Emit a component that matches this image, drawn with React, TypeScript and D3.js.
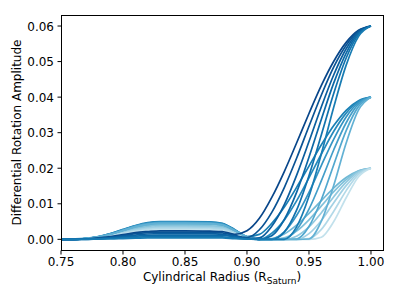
import React from "react";
import * as d3 from "d3";

// shared radius grid (R_Saturn)
const radius = [
  0.75, 0.76, 0.77, 0.78, 0.79, 0.8, 0.81, 0.82, 0.83, 0.85, 0.87, 0.88,
  0.89, 0.9, 0.91, 0.92, 0.93, 0.94, 0.95, 0.96, 0.97, 0.98, 0.99, 1.0,
];

// amplitude 0.02 profiles (light)
const amp02 = [
  [0, 0, 0.0002, 0.0006, 0.0013, 0.0023, 0.0033, 0.0039, 0.0042, 0.0042, 0.0041, 0.0038, 0.0023, 0.0006, 0, 0.0002, 0.0015, 0.004, 0.0073, 0.0109, 0.0145, 0.0174, 0.0193, 0.02],
  [0, 0, 0.0002, 0.0006, 0.0012, 0.0021, 0.003, 0.0036, 0.0039, 0.0039, 0.0038, 0.0035, 0.0021, 0.0006, 0, 0, 0.0004, 0.0023, 0.0055, 0.0094, 0.0134, 0.0168, 0.0192, 0.02],
  [0, 0, 0.0002, 0.0005, 0.0012, 0.002, 0.0028, 0.0033, 0.0036, 0.0036, 0.0035, 0.0032, 0.002, 0.0005, 0, 0, 0, 0.0009, 0.0035, 0.0075, 0.012, 0.0161, 0.019, 0.02],
  [0, 0, 0.0002, 0.0005, 0.0011, 0.0018, 0.0026, 0.0031, 0.0033, 0.0033, 0.0032, 0.003, 0.0018, 0.0005, 0, 0, 0, 0, 0.0016, 0.0053, 0.0103, 0.0151, 0.0187, 0.02],
  [0, 0, 0.0002, 0.0005, 0.001, 0.0017, 0.0023, 0.0028, 0.003, 0.003, 0.0029, 0.0027, 0.0017, 0.0005, 0, 0, 0, 0, 0.0002, 0.0028, 0.0079, 0.0137, 0.0183, 0.02],
  [0, 0, 0.0001, 0.0004, 0.0009, 0.0015, 0.0021, 0.0025, 0.0027, 0.0027, 0.0026, 0.0024, 0.0015, 0.0004, 0, 0, 0, 0, 0, 0.0006, 0.005, 0.0117, 0.0176, 0.02],
];

// amplitude 0.04 profiles (medium)
const amp04 = [
  [0, 0.0001, 0.0003, 0.0008, 0.0016, 0.0028, 0.0039, 0.0047, 0.005, 0.005, 0.0049, 0.0045, 0.0028, 0.0008, 0.0014, 0.0045, 0.009, 0.0146, 0.0206, 0.0266, 0.032, 0.0363, 0.039, 0.04],
  [0, 0, 0.0002, 0.0007, 0.0016, 0.0027, 0.0038, 0.0046, 0.0049, 0.0049, 0.0048, 0.0044, 0.0027, 0.0007, 0, 0.0017, 0.0054, 0.0108, 0.0173, 0.024, 0.0304, 0.0355, 0.0388, 0.04],
  [0, 0, 0.0002, 0.0007, 0.0015, 0.0026, 0.0037, 0.0045, 0.0048, 0.0048, 0.0047, 0.0043, 0.0026, 0.0007, 0, 0.0001, 0.0021, 0.0067, 0.0132, 0.0208, 0.0282, 0.0344, 0.0385, 0.04],
  [0, 0, 0.0002, 0.0007, 0.0015, 0.0026, 0.0037, 0.0044, 0.0047, 0.0047, 0.0046, 0.0042, 0.0026, 0.0007, 0, 0, 0.0001, 0.0027, 0.0085, 0.0165, 0.0252, 0.0328, 0.0381, 0.04],
  [0, 0, 0.0002, 0.0007, 0.0015, 0.0025, 0.0036, 0.0043, 0.0046, 0.0046, 0.0045, 0.0041, 0.0025, 0.0007, 0, 0, 0, 0.0001, 0.0036, 0.0112, 0.021, 0.0306, 0.0374, 0.04],
  [0, 0, 0.0002, 0.0007, 0.0014, 0.0025, 0.0035, 0.0042, 0.0045, 0.0045, 0.0044, 0.0041, 0.0025, 0.0007, 0, 0, 0, 0, 0.0001, 0.0051, 0.0152, 0.0271, 0.0364, 0.04],
];

// amplitude 0.06 profiles (dark)
const amp06 = [
  [0, 0, 0.0001, 0.0004, 0.0008, 0.0013, 0.0019, 0.0022, 0.0024, 0.0024, 0.0023, 0.0022, 0.0014, 0.0024, 0.0059, 0.0118, 0.019, 0.0271, 0.0354, 0.0433, 0.0501, 0.0554, 0.0588, 0.06],
  [0, 0, 0.0001, 0.0003, 0.0006, 0.0011, 0.0016, 0.0019, 0.002, 0.002, 0.0019, 0.0018, 0.0011, 0.0005, 0.0027, 0.0076, 0.0145, 0.0228, 0.0318, 0.0406, 0.0485, 0.0546, 0.0586, 0.06],
  [0, 0, 0.0001, 0.0002, 0.0005, 0.0009, 0.0012, 0.0015, 0.0016, 0.0016, 0.0016, 0.0014, 0.0009, 0.0002, 0.0004, 0.0037, 0.0097, 0.018, 0.0275, 0.0373, 0.0463, 0.0536, 0.0583, 0.06],
  [0, 0, 0.0001, 0.0002, 0.0004, 0.0007, 0.0009, 0.0011, 0.0012, 0.0012, 0.0012, 0.0011, 0.0007, 0.0002, 0, 0.001, 0.0055, 0.0132, 0.0231, 0.0338, 0.044, 0.0524, 0.058, 0.06],
  [0, 0, 0, 0.0001, 0.0003, 0.0004, 0.0006, 0.0007, 0.0008, 0.0008, 0.0008, 0.0007, 0.0004, 0.0001, 0, 0, 0.002, 0.0082, 0.0179, 0.0294, 0.0411, 0.051, 0.0576, 0.06],
  [0, 0, 0, 0.0001, 0.0001, 0.0002, 0.0003, 0.0004, 0.0004, 0.0004, 0.0004, 0.0004, 0.0002, 0.0001, 0, 0, 0, 0.0035, 0.0121, 0.0241, 0.0372, 0.049, 0.0571, 0.06],
];

const xTicks = [0.75, 0.8, 0.85, 0.9, 0.95, 1.0];
const yTicks = [0, 0.01, 0.02, 0.03, 0.04, 0.05, 0.06];

const colors02 = ["#6fb8d5", "#80c1da", "#92c9df", "#a2d1e4", "#b2d9e8", "#c2e1ec"];
const colors04 = ["#1980b5", "#268abc", "#3494c3", "#439ec9", "#52a8cf", "#62b1d4"];
const colors06 = ["#08468a", "#0a5394", "#0b5e9e", "#0c68a6", "#1172ad", "#187cb3"];

const W = 399;
const H = 299;
const left = 61;
const right = 383;
const top = 15;
const bottom = 250;

export default function App() {
  const x = d3.scaleLinear().domain([0.75, 1.0097]).range([left, right]);
  const y = d3.scaleLinear().domain([-0.003, 0.0631]).range([bottom, top]);

  const line = d3
    .line<number>()
    .x((d, i) => x(radius[i]))
    .y((d) => y(d))
    .curve(d3.curveMonotoneX);

  // light profiles first, dark ones on top
  const series = [
    ...amp02.map((v, i) => ({ v, c: colors02[i] })),
    ...amp04.map((v, i) => ({ v, c: colors04[i] })),
    ...amp06.map((v, i) => ({ v, c: colors06[i] })),
  ];

  const fmt = d3.format(".2f");
  const font = "'DejaVu Sans', sans-serif";

  return (
    <svg
      width={W}
      height={H}
      style={{ position: "absolute", left: 0, top: 0, background: "#fff" }}
      fontFamily={font}
    >
      <defs>
        <clipPath id="plot">
          <rect x={left} y={top} width={right - left} height={bottom - top} />
        </clipPath>
      </defs>
      <g clipPath="url(#plot)">
        {series.map((s, i) => (
          <path
            key={i}
            d={line(s.v) || ""}
            fill="none"
            stroke={s.c}
            strokeWidth={1.7}
          />
        ))}
      </g>

      {/* spines */}
      <rect
        x={left + 0.5}
        y={top + 0.5}
        width={right - left}
        height={bottom - top}
        fill="none"
        stroke="#000"
        strokeWidth={1}
      />

      {/* x axis */}
      {xTicks.map((t) => (
        <g key={t}>
          <line x1={x(t)} x2={x(t)} y1={bottom + 0.5} y2={bottom + 4.5} stroke="#000" />
          <text x={x(t)} y={bottom + 16} fontSize={12} textAnchor="middle">
            {fmt(t)}
          </text>
        </g>
      ))}
      <text x={(left + right) / 2} y={281} fontSize={12} textAnchor="middle">
        Cylindrical Radius (R
        <tspan fontSize={9} dy={3}>Saturn</tspan>
        <tspan dy={-3}>)</tspan>
      </text>

      {/* y axis */}
      {yTicks.map((t) => (
        <g key={t}>
          <line x1={left - 3.5} x2={left + 0.5} y1={y(t)} y2={y(t)} stroke="#000" />
          <text x={left - 7} y={y(t) + 4.5} fontSize={12} textAnchor="end">
            {fmt(t)}
          </text>
        </g>
      ))}
      <text
        transform={`translate(21,${(top + bottom) / 2}) rotate(-90)`}
        fontSize={12}
        textAnchor="middle"
      >
        Differential Rotation Amplitude
      </text>
    </svg>
  );
}
